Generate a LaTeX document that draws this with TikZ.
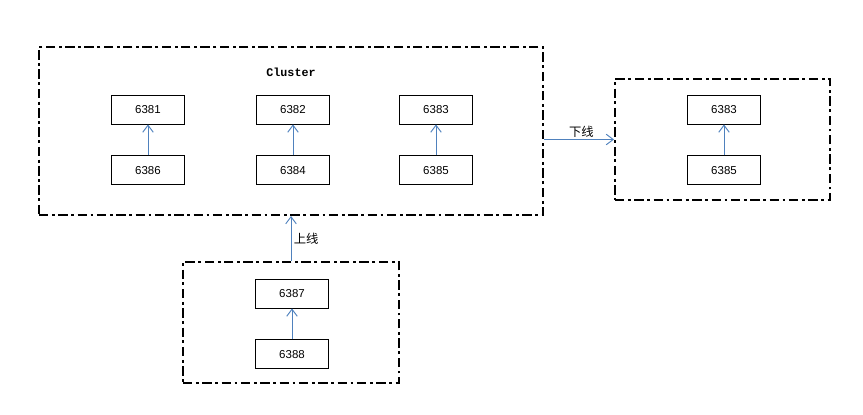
\documentclass[tikz,border=0pt]{standalone}
\usepackage{fontspec}
\setmainfont{Liberation Sans}
\newfontfamily\cjkfont{Noto Sans CJK SC}
\newfontfamily\clusterfont{Liberation Mono}
\usetikzlibrary{arrows.meta,positioning}

\begin{document}
\begin{tikzpicture}[
    x=0.03cm, y=-0.03cm,
    node distance=0.93cm,
    port/.style={draw, line width=0.8pt, minimum width=2.2cm, minimum height=0.87cm, inner sep=0pt, font=\fontsize{9.8}{11}\selectfont},
    frame/.style={draw, line width=1.7pt, dash pattern=on 8pt off 3pt on 2.5pt off 3pt, inner sep=0pt},
    link/.style={-{Straight Barb[length=6pt,width=9pt]}, draw={rgb,255:red,79;green,129;blue,189}, line width=0.8pt},
    tag/.style={font=\cjkfont\fontsize{10.5}{12}\selectfont}
]
\useasboundingbox (0,0) rectangle (863,414);
% frames
\node[frame, minimum width=15.12cm, minimum height=5.04cm] (cluster) at (291,131) {};
\node[frame, minimum width=6.45cm, minimum height=3.63cm] (offline) at (722.5,139.5) {};
\node[frame, minimum width=6.48cm, minimum height=3.63cm] (online) at (291,322.5) {};
\node[font=\clusterfont\bfseries\fontsize{10}{11}\selectfont] (title) at (291,72) {Cluster};
% cluster
\node[port] (m6381) at (148,109.5) {6381};
\node[port, below=of m6381] (s6386) {6386};
\node[port] (m6382) at (293,109.5) {6382};
\node[port, below=of m6382] (s6384) {6384};
\node[port] (m6383) at (436,109.5) {6383};
\node[port, below=of m6383] (s6385) {6385};
\draw[link] (s6386) -- (m6381);
\draw[link] (s6384) -- (m6382);
\draw[link] (s6385) -- (m6383);
% removed
\node[port] (r6383) at (724,109.5) {6383};
\node[port, below=of r6383] (r6385) {6385};
\draw[link] (r6385) -- (r6383);
% added
\node[port] (a6387) at (292,293.5) {6387};
\node[port, below=of a6387] (a6388) {6388};
\draw[link] (a6388) -- (a6387);
% moves
\draw[link] (offline.west -| cluster.east) -- node[tag, above, xshift=2pt, inner sep=1pt] (down) {下线} (offline.west);
\draw[link] (online.north) -- node[tag, right, inner sep=2pt] (up) {上线} (online.north |- cluster.south);
\end{tikzpicture}
\end{document}
